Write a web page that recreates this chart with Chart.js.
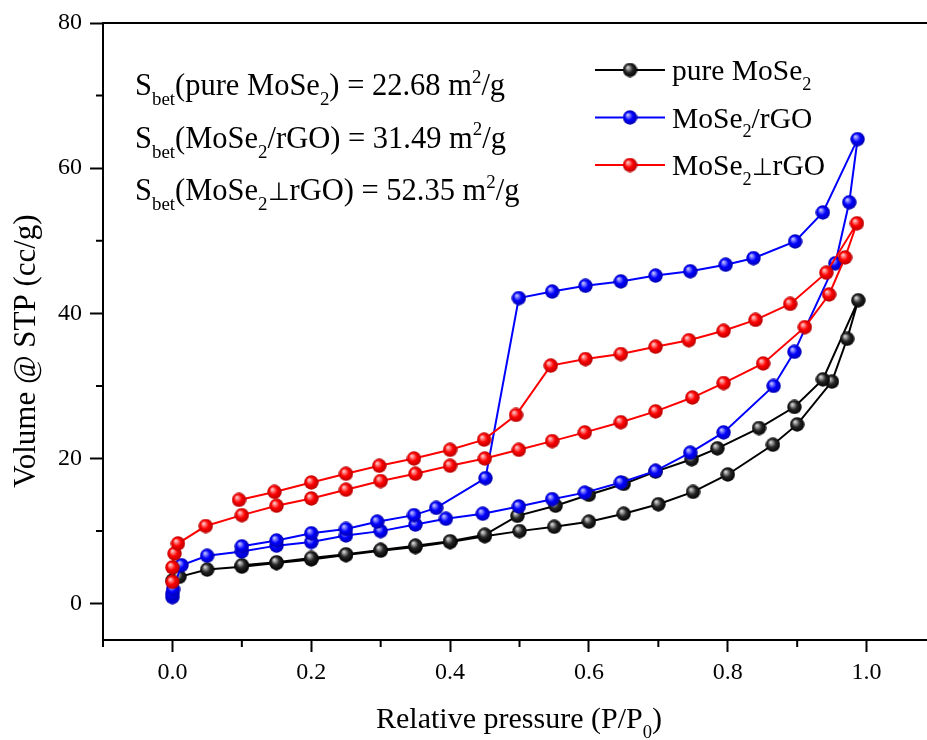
<!DOCTYPE html>
<html>
<head>
<meta charset="utf-8">
<script src="https://cdn.jsdelivr.net/npm/chart.js@4.4.0/dist/chart.umd.min.js"></script>
<style>
  html, body { margin: 0; padding: 0; background: #fff; overflow: hidden; }
  #wrap { width: 927px; height: 740px; }
</style>
</head>
<body>
<div id="wrap"><canvas id="bet" width="927" height="740"></canvas></div>
<script>
// isotherms: adsorption branch, then desorption branch
const pureAdsX = [0.0, 0.01, 0.05, 0.1, 0.15, 0.2, 0.25, 0.3, 0.35, 0.4, 0.45, 0.5, 0.55, 0.6, 0.65, 0.7, 0.75, 0.8, 0.865, 0.9, 0.95, 0.972, 0.988];
const pureAdsY = [3.2, 3.7, 4.7, 5.1, 5.6, 6.1, 6.7, 7.3, 7.8, 8.5, 9.3, 10.0, 10.6, 11.3, 12.4, 13.7, 15.4, 17.8, 21.9, 24.7, 30.6, 36.5, 41.8];
const pureDesX = [0.937, 0.896, 0.845, 0.785, 0.748, 0.696, 0.65, 0.6, 0.552, 0.497, 0.45, 0.4, 0.35, 0.3, 0.25, 0.2, 0.15, 0.1];
const pureDesY = [30.9, 27.1, 24.2, 21.4, 19.9, 18.2, 16.5, 15.0, 13.5, 12.1, 9.5, 8.6, 8.0, 7.4, 6.8, 6.3, 5.7, 5.3];

const rgoAdsX = [0.0, 0.0, 0.001, 0.013, 0.05, 0.1, 0.15, 0.2, 0.25, 0.3, 0.35, 0.394, 0.447, 0.499, 0.547, 0.594, 0.646, 0.696, 0.746, 0.794, 0.866, 0.896, 0.955, 0.975, 0.987];
const rgoAdsY = [0.9, 1.4, 2.0, 5.3, 6.6, 7.2, 8.0, 8.5, 9.4, 10.0, 10.9, 11.7, 12.4, 13.4, 14.4, 15.3, 16.7, 18.3, 20.8, 23.6, 30.0, 34.7, 46.9, 55.3, 64.0];
const rgoDesX = [0.937, 0.897, 0.837, 0.797, 0.746, 0.696, 0.646, 0.595, 0.547, 0.499, 0.451, 0.38, 0.348, 0.295, 0.25, 0.2, 0.15, 0.1];
const rgoDesY = [53.9, 49.9, 47.6, 46.7, 45.8, 45.2, 44.4, 43.8, 43.0, 42.1, 17.3, 13.2, 12.2, 11.3, 10.3, 9.7, 8.7, 7.9];

const perpAdsX = [0.0, 0.0, 0.003, 0.008, 0.048, 0.1, 0.15, 0.2, 0.25, 0.3, 0.35, 0.4, 0.45, 0.499, 0.547, 0.594, 0.646, 0.696, 0.749, 0.794, 0.851, 0.911, 0.946, 0.969, 0.986];
const perpAdsY = [3.0, 5.0, 6.9, 8.3, 10.7, 12.2, 13.5, 14.5, 15.7, 16.9, 17.9, 19.0, 20.0, 21.2, 22.4, 23.6, 25.0, 26.5, 28.4, 30.4, 33.1, 38.1, 42.6, 47.7, 52.4];
const perpDesX = [0.942, 0.89, 0.84, 0.794, 0.744, 0.696, 0.646, 0.595, 0.545, 0.495, 0.449, 0.4, 0.348, 0.298, 0.25, 0.2, 0.147, 0.096];
const perpDesY = [45.6, 41.3, 39.1, 37.6, 36.3, 35.4, 34.4, 33.7, 32.8, 26.0, 22.6, 21.2, 20.0, 19.0, 17.9, 16.7, 15.4, 14.3];

const betValues = ['22.68', '31.49', '52.35'];

const xTicks = [0, 0.2, 0.4, 0.6, 0.8, 1.0];
const xMinor = [-0.1, 0.1, 0.3, 0.5, 0.7, 0.9];
const yTicks = [0, 20, 40, 60, 80];
const yMinor = [10, 30, 50, 70];

// sample names as rich text pieces ('' normal, 'sub', 'sup', 'sym')
const names = [
  [['pure MoSe', ''], ['2', 'sub']],
  [['MoSe', ''], ['2', 'sub'], ['/rGO', '']],
  [['MoSe', ''], ['2', 'sub'], ['\u22A5', 'sym'], ['rGO', '']]
];

const FONT = "'Liberation Serif', 'Times New Roman', serif";
Chart.defaults.font.family = FONT;
Chart.defaults.color = '#000';

function ball(light, mid, dark) {
  const c = document.createElement('canvas');
  c.width = c.height = 15;
  const g = c.getContext('2d');
  const grad = g.createRadialGradient(5.2, 4.8, 0.5, 7.5, 7.5, 7.5);
  grad.addColorStop(0, light);
  grad.addColorStop(0.5, mid);
  grad.addColorStop(1, dark);
  g.fillStyle = grad;
  g.beginPath();
  g.arc(7.5, 7.5, 7.2, 0, Math.PI * 2);
  g.fill();
  return c;
}

const balls = [
  ball('#d8d8d8', '#262626', '#000'),
  ball('#c0c0ff', '#0000ff', '#0000a8'),
  ball('#ffc8c8', '#ff0000', '#b00000')
];
const lineColors = ['#000000', '#0000ff', '#ff0000'];

function pts(xs, ys) {
  return xs.map((v, i) => ({ x: v, y: ys[i] }));
}

const loops = [
  pts(pureAdsX.concat(pureDesX), pureAdsY.concat(pureDesY)),
  pts(rgoAdsX.concat(rgoDesX), rgoAdsY.concat(rgoDesY)),
  pts(perpAdsX.concat(perpDesX), perpAdsY.concat(perpDesY))
];

function partSize(m, size) {
  return m === 'sym' ? size * 0.82 : m ? size * 0.62 : size;
}

function richWidth(ctx, parts, size) {
  let w = 0;
  parts.forEach(([t, m]) => {
    ctx.font = partSize(m, size) + 'px ' + FONT;
    w += ctx.measureText(t).width;
  });
  return w;
}

function drawRich(ctx, parts, x, y, size) {
  parts.forEach(([t, m]) => {
    const dy = m === 'sub' ? size * 0.33 : m === 'sup' ? -size * 0.4 : 0;
    ctx.font = partSize(m, size) + 'px ' + FONT;
    ctx.fillText(t, x, y + dy);
    x += ctx.measureText(t).width;
  });
  return x;
}

const decor = {
  id: 'decor',
  afterDraw(chart) {
    const { ctx, chartArea: a, scales: { x, y } } = chart;
    ctx.save();
    ctx.strokeStyle = '#000';
    ctx.lineWidth = 2;
    ctx.beginPath();
    ctx.moveTo(a.left - 1, a.top);
    ctx.lineTo(a.right, a.top);
    xMinor.forEach(v => {
      const px = x.getPixelForValue(v);
      ctx.moveTo(px, a.bottom);
      ctx.lineTo(px, a.bottom + 7);
    });
    yMinor.forEach(v => {
      const py = y.getPixelForValue(v);
      ctx.moveTo(a.left, py);
      ctx.lineTo(a.left - 7, py);
    });
    ctx.stroke();

    ctx.fillStyle = '#000';
    ctx.textBaseline = 'alphabetic';
    ctx.textAlign = 'left';

    // BET surface areas
    names.forEach((n, i) => {
      const parts = [['S', ''], ['bet', 'sub'], ['(', '']].concat(n,
        [[') = ' + betValues[i] + ' m', ''], ['2', 'sup'], ['/g', '']]);
      drawRich(ctx, parts, 135, 95 + i * 52.5, 30.5);
    });

    // legend
    names.forEach((n, i) => {
      const ly = 70 + i * 47.5;
      ctx.strokeStyle = lineColors[i];
      ctx.beginPath();
      ctx.moveTo(595, ly);
      ctx.lineTo(665, ly);
      ctx.stroke();
      ctx.drawImage(balls[i], 630 - 7.5, ly - 7.5);
      drawRich(ctx, n, 672, ly + 10, 29.5);
    });

    // axis titles (x title centred on the full axis, which runs past the crop)
    const xt = [['Relative pressure (P/P', ''], ['0', 'sub'], [')', '']];
    const w = richWidth(ctx, xt, 30);
    drawRich(ctx, xt, 519 - w / 2, 728, 30);

    ctx.translate(35, 351);
    ctx.rotate(-Math.PI / 2);
    ctx.textAlign = 'center';
    ctx.font = '31px ' + FONT;
    ctx.fillText('Volume @ STP (cc/g)', 0, 0);
    ctx.restore();
  }
};

new Chart(document.getElementById('bet'), {
  type: 'scatter',
  data: {
    datasets: loops.map((d, i) => ({
      label: names[i].map(p => p[0]).join(''),
      data: d,
      showLine: true,
      borderColor: lineColors[i],
      borderWidth: 2,
      pointStyle: balls[i],
      pointRadius: 7,
      order: 3 - i
    }))
  },
  options: {
    responsive: false,
    animation: false,
    devicePixelRatio: 1,
    events: [],
    layout: { autoPadding: false, padding: { top: 23, left: 0, right: 0, bottom: 0 } },
    plugins: { legend: { display: false }, tooltip: { enabled: false } },
    scales: {
      x: {
        type: 'linear',
        min: -0.1,
        max: 1.087,
        afterBuildTicks: s => { s.ticks = xTicks.map(v => ({ value: v })); },
        afterFit: s => { s.height = 100; s.paddingLeft = 0; s.paddingRight = 0; },
        ticks: { font: { size: 24 }, color: '#000', padding: 6, maxRotation: 0, callback: v => v.toFixed(1) },
        grid: { display: true, drawOnChartArea: false, drawTicks: true, tickLength: 12, tickWidth: 2, tickColor: '#000' },
        border: { display: true, color: '#000', width: 2 }
      },
      y: {
        type: 'linear',
        min: -5,
        max: 80,
        afterBuildTicks: s => { s.ticks = yTicks.map(v => ({ value: v })); },
        afterFit: s => { s.width = 103; },
        ticks: { font: { size: 24 }, color: '#000', padding: 8, callback: v => String(v) },
        grid: { display: true, drawOnChartArea: false, drawTicks: true, tickLength: 13, tickWidth: 2, tickColor: '#000' },
        border: { display: true, color: '#000', width: 2 }
      }
    }
  },
  plugins: [decor]
});
</script>
</body>
</html>
